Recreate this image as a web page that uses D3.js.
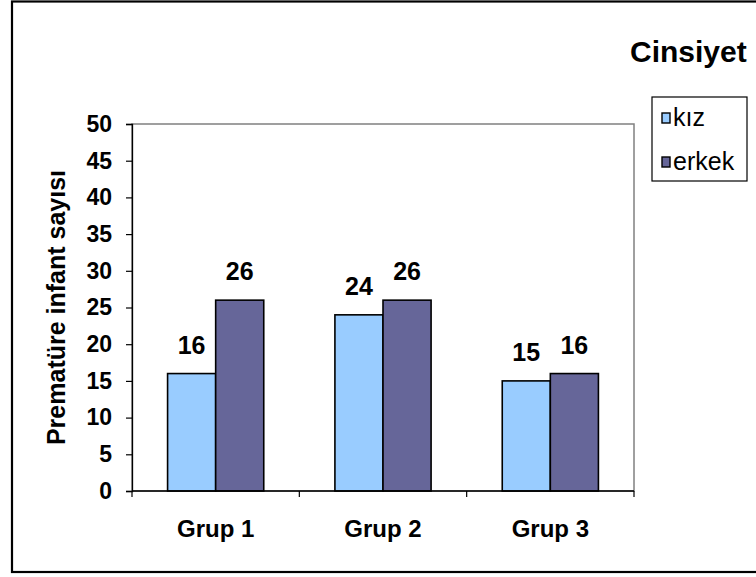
<!DOCTYPE html>
<html>
<head>
<meta charset="utf-8">
<script src="https://cdn.jsdelivr.net/npm/d3@7"></script>
<style>
  html, body { margin: 0; padding: 0; background: #fff; }
  svg { display: block; font-family: "Liberation Sans", Arial, sans-serif; }
</style>
</head>
<body>
<svg id="chart" width="756" height="577"></svg>
<script>
// Premature infant counts by group and sex
const groups = ["Grup 1", "Grup 2", "Grup 3"];
const seriesNames = ["kız", "erkek"];
const kizValues = [16, 24, 15];
const erkekValues = [26, 26, 16];
const yTicks = [0, 5, 10, 15, 20, 25, 30, 35, 40, 45, 50];
const seriesColors = ["#99CCFF", "#666699"];

const svg = d3.select("#chart");
const plot = { left: 132, right: 634, top: 124, bottom: 491 };

// Outer chart frame (right edge runs past the page)
svg.append("rect")
  .attr("x", 12).attr("y", 1.5).attr("width", 760).attr("height", 570.5)
  .attr("fill", "none").attr("stroke", "#000").attr("stroke-width", 2.2);

const x0 = d3.scaleBand().domain(groups).range([plot.left, plot.right]).paddingInner(0).paddingOuter(0);
const x1 = d3.scaleBand().domain(seriesNames).range([0, x0.bandwidth()]).paddingInner(0).paddingOuter(0.74);
const y = d3.scaleLinear().domain([0, 50]).range([plot.bottom, plot.top]);

// Plot area border
svg.append("rect")
  .attr("x", plot.left).attr("y", plot.top)
  .attr("width", plot.right - plot.left).attr("height", plot.bottom - plot.top)
  .attr("fill", "none").attr("stroke", "#808080").attr("stroke-width", 1.5);

// Bars
const rows = groups.map((g, i) => ({ group: g, values: [kizValues[i], erkekValues[i]] }));
const gGroups = svg.append("g").selectAll("g").data(rows).join("g")
  .attr("transform", d => `translate(${x0(d.group)},0)`);

gGroups.selectAll("rect")
  .data(d => d.values.map((v, j) => ({ name: seriesNames[j], value: v, color: seriesColors[j] })))
  .join("rect")
  .attr("x", d => x1(d.name))
  .attr("y", d => y(d.value))
  .attr("width", x1.bandwidth())
  .attr("height", d => y(0) - y(d.value))
  .attr("fill", d => d.color)
  .attr("stroke", "#000").attr("stroke-width", 1.6);

// Value labels above bars
gGroups.selectAll("text.val")
  .data(d => d.values.map((v, j) => ({ name: seriesNames[j], value: v })))
  .join("text").attr("class", "val")
  .attr("x", d => x1(d.name) + x1.bandwidth() / 2)
  .attr("y", d => y(d.value) - 20)
  .attr("text-anchor", "middle")
  .attr("font-size", 25).attr("font-weight", "bold")
  .text(d => d.value);

// Y axis
const yAxis = d3.axisLeft(y).tickValues(yTicks).tickSize(6).tickPadding(14);
const gy = svg.append("g").attr("transform", `translate(${plot.left},0)`).call(yAxis);
gy.select(".domain").attr("stroke", "#000").attr("stroke-width", 1.3);
gy.selectAll(".tick line").attr("stroke", "#000").attr("stroke-width", 1.2);
gy.selectAll(".tick text").attr("font-size", 23).attr("font-weight", "bold")
  .attr("font-family", "Liberation Sans, Arial, sans-serif").attr("fill", "#000");

// X axis with ticks at category boundaries
const xAxisG = svg.append("g").attr("transform", `translate(0,${plot.bottom})`);
xAxisG.append("line").attr("x1", plot.left).attr("x2", plot.right)
  .attr("stroke", "#000").attr("stroke-width", 1.3);
const boundaries = groups.map(g => x0(g)).concat([x0(groups[groups.length - 1]) + x0.bandwidth()]);
xAxisG.selectAll("line.tk").data(boundaries).join("line").attr("class", "tk")
  .attr("x1", d => d).attr("x2", d => d).attr("y1", 0).attr("y2", 6)
  .attr("stroke", "#000").attr("stroke-width", 1.2);
xAxisG.selectAll("text").data(groups).join("text")
  .attr("x", d => x0(d) + x0.bandwidth() / 2)
  .attr("y", 46)
  .attr("text-anchor", "middle")
  .attr("font-size", 24).attr("font-weight", "bold")
  .text(d => d);

// Y axis title
svg.append("text")
  .attr("transform", `translate(65,${(plot.top + plot.bottom) / 2}) rotate(-90)`)
  .attr("text-anchor", "middle")
  .attr("font-size", 25).attr("font-weight", "bold")
  .text("Prematüre infant sayısı");

// Chart title
svg.append("text")
  .attr("x", 630).attr("y", 62)
  .attr("font-size", 30).attr("font-weight", "bold")
  .text("Cinsiyet");

// Legend
const legend = svg.append("g");
legend.append("rect")
  .attr("x", 652).attr("y", 97).attr("width", 95).attr("height", 84)
  .attr("fill", "#fff").attr("stroke", "#000").attr("stroke-width", 1.2);
const legendRows = legend.selectAll("g").data(seriesNames).join("g")
  .attr("transform", (d, i) => `translate(662,${113 + i * 44})`);
legendRows.append("rect")
  .attr("width", 8).attr("height", 10)
  .attr("fill", (d, i) => seriesColors[i])
  .attr("stroke", "#000").attr("stroke-width", 1.4);
legendRows.append("text")
  .attr("x", 11).attr("y", 13)
  .attr("font-size", 25)
  .text(d => d);
</script>
</body>
</html>
